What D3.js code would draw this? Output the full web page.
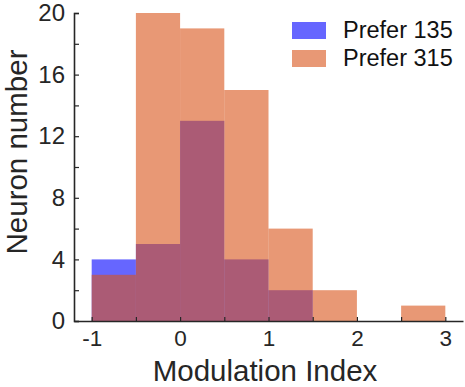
<!DOCTYPE html>
<html>
<head>
<meta charset="utf-8">
<script src="https://cdn.jsdelivr.net/npm/d3@7"></script>
<style>
  body { margin: 0; background: #fff; }
  svg { font-family: "Liberation Sans", Arial, sans-serif; }
</style>
</head>
<body>
<div id="chart"></div>
<script>
// bin edges and counts per bin
var binEdges = [-1, -0.5, 0, 0.5, 1, 1.5, 2, 2.5, 3];
var prefer135 = [4, 5, 13, 4, 2, 0, 0, 0];
var prefer315 = [3, 20, 19, 15, 6, 2, 0, 1];
var seriesNames = ["Prefer 135", "Prefer 315"];
var xTickValues = [-1, -0.5, 0, 0.5, 1, 1.5, 2, 2.5, 3];
var yTickValues = [0, 2, 4, 6, 8, 10, 12, 14, 16, 18, 20];

var width = 465, height = 387;
var margin = { left: 74, right: 2, top: 13, bottom: 66 };

var svg = d3.select("#chart").append("svg")
    .attr("width", width)
    .attr("height", height);

var xScale = d3.scaleLinear().domain([-1.2, 3.2]).range([margin.left, width - margin.right]);
var yScale = d3.scaleLinear().domain([0, 20]).range([height - margin.bottom, margin.top]);

// MATLAB style: blue then orange, both at 0.6 alpha
var colors = ["#0000ff", "#d95319"];
var series = [prefer135, prefer315];

series.forEach(function(counts, s) {
  svg.append("g").selectAll("rect")
    .data(counts)
    .enter().append("rect")
    .attr("x", function(d, i) { return xScale(binEdges[i]); })
    .attr("width", function(d, i) { return xScale(binEdges[i + 1]) - xScale(binEdges[i]); })
    .attr("y", function(d) { return yScale(d); })
    .attr("height", function(d) { return yScale(0) - yScale(d); })
    .attr("fill", colors[s])
    .attr("fill-opacity", 0.6);
});

// x axis, ticks inward
var xAxis = svg.append("g")
  .attr("transform", "translate(0," + yScale(0) + ")")
  .call(d3.axisBottom(xScale)
    .tickValues(xTickValues)
    .tickSizeInner(-4).tickSizeOuter(0)
    .tickPadding(9)
    .tickFormat(function(d) { return Number.isInteger(d) ? d : ""; }));
xAxis.select(".domain").attr("stroke", "#262626").attr("stroke-width", 1.6);
xAxis.selectAll(".tick line").attr("stroke", "#262626").attr("stroke-width", 1.2);
xAxis.selectAll("text").attr("font-size", 22.5).attr("fill", "#262626")
  .attr("font-family", "Liberation Sans, Arial, sans-serif");

// y axis
var yAxis = svg.append("g")
  .attr("transform", "translate(" + xScale.range()[0] + ",0)")
  .call(d3.axisLeft(yScale)
    .tickValues(yTickValues)
    .tickSizeInner(-5).tickSizeOuter(-5)
    .tickPadding(9)
    .tickFormat(function(d) { return d % 4 === 0 ? d : ""; }));
yAxis.select(".domain").attr("stroke", "#262626").attr("stroke-width", 1.6);
yAxis.selectAll(".tick line").attr("stroke", "#262626").attr("stroke-width", 1.2);
yAxis.selectAll("text").attr("font-size", 24).attr("fill", "#262626")
  .attr("font-family", "Liberation Sans, Arial, sans-serif");

// axis titles
svg.append("text")
  .attr("x", 265).attr("y", 381)
  .attr("text-anchor", "middle")
  .attr("font-size", 29.5).attr("fill", "#262626")
  .text("Modulation Index");

svg.append("text")
  .attr("transform", "translate(27,152) rotate(-90)")
  .attr("text-anchor", "middle")
  .attr("font-size", 29.5).attr("fill", "#262626")
  .text("Neuron number");

// legend
var legend = svg.append("g");
seriesNames.forEach(function(name, i) {
  legend.append("rect")
    .attr("x", 292).attr("y", 22 + i * 28)
    .attr("width", 34).attr("height", 17)
    .attr("fill", colors[i]).attr("fill-opacity", 0.6);
  legend.append("text")
    .attr("x", 343).attr("y", 37.5 + i * 28)
    .attr("font-size", 23.5).attr("fill", "#111")
    .text(name);
});
</script>
</body>
</html>
